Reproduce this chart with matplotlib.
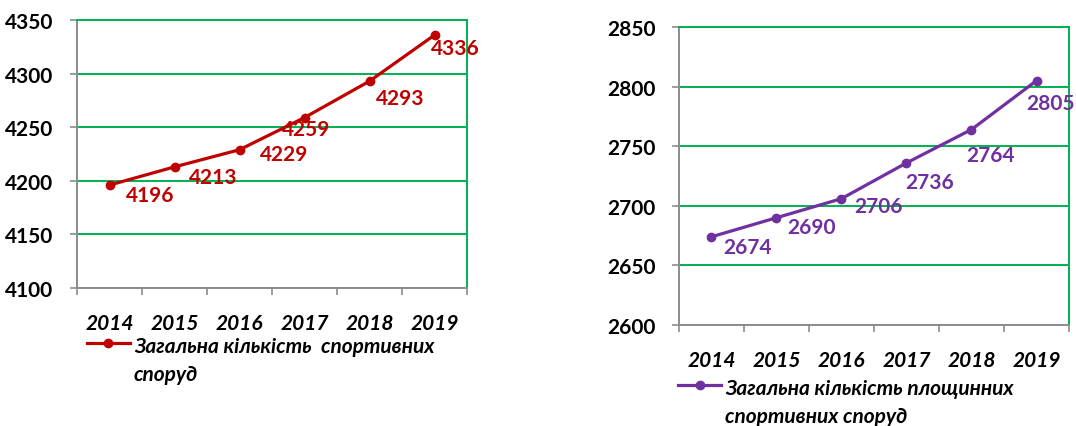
import matplotlib
matplotlib.use("Agg")
import matplotlib.pyplot as plt
from matplotlib.lines import Line2D

plt.rcParams['font.family'] = ['Lato', 'Noto Sans', 'DejaVu Sans']

years = ['2014', '2015', '2016', '2017', '2018', '2019']
facilities = [4196, 4213, 4229, 4259, 4293, 4336]
grounds = [2674, 2690, 2706, 2736, 2764, 2805]

left_label = 'Загальна кількість  спортивних\nспоруд'
right_label = 'Загальна кількість площинних\nспортивних споруд'

# label offsets in points (dx, dy) for data labels
left_offsets = [(29, -7), (28, -7), (32, -3), (1, -8), (22, -12), (15, -9)]
right_offsets = [(26, -7), (25, -7), (27, -5), (17, -14), (14, -18), (10, -16)]

grid_green = '#00B050'
axis_gray = '#8C8C8C'


def style_axes(ax, ymin, ymax):
    x = [i + 0.5 for i in range(len(years))]
    ax.set_xlim(0, len(years))
    ax.set_ylim(ymin, ymax)
    ax.set_yticks(range(ymin, ymax + 1, 50))
    ax.set_xticks(range(len(years) + 1))
    ax.set_xticklabels([])
    ax.set_xticks(x, minor=True)
    ax.set_xticklabels(years, minor=True, fontsize=15, fontweight='bold', fontstyle='italic')
    ax.tick_params(axis='x', which='major', length=5, color=axis_gray, width=1.2)
    ax.tick_params(axis='x', which='minor', length=0, pad=18)
    ax.tick_params(axis='y', length=5, color=axis_gray, width=1.2, pad=12, labelsize=15)
    for lab in ax.get_yticklabels():
        lab.set_fontweight('bold')
    ax.grid(axis='y', color=grid_green, linewidth=1.4)
    ax.set_axisbelow(True)
    ax.spines['left'].set_color(axis_gray)
    ax.spines['bottom'].set_color(axis_gray)
    ax.spines['top'].set_color(grid_green)
    ax.spines['right'].set_color(grid_green)
    for s in ax.spines.values():
        s.set_linewidth(1.4)
    return x


fig = plt.figure(figsize=(10.76, 4.27), dpi=100)
ax1 = fig.add_axes([0.0716, 0.3232, 0.3625, 0.6276])
ax2 = fig.add_axes([0.6310, 0.2365, 0.3625, 0.6979])

x1 = style_axes(ax1, 4100, 4350)
ax1.plot(x1, facilities, color='#C00000', linewidth=2.3, marker='o', markersize=6, clip_on=False)
for xi, v, off in zip(x1, facilities, left_offsets):
    ax1.annotate(str(v), (xi, v), xytext=off, textcoords='offset points', ha='center', va='center',
                 color='#C00000', fontsize=15, fontweight='bold')

x2 = style_axes(ax2, 2600, 2850)
ax2.plot(x2, grounds, color='#7030A0', linewidth=2.3, marker='o', markersize=6, clip_on=False)
for xi, v, off in zip(x2, grounds, right_offsets):
    ax2.annotate(str(v), (xi, v), xytext=off, textcoords='offset points', ha='center', va='center',
                 color='#7030A0', fontsize=15, fontweight='bold')

# legends drawn by hand to keep the marker on the first line
W, H = 1076, 427
fig.add_artist(Line2D([87 / W, 130 / W], [1 - 344 / H] * 2, color='#C00000', linewidth=2.3))
fig.add_artist(Line2D([108 / W], [1 - 344 / H], color='#C00000', marker='o', markersize=6))
fig.text(134 / W, 1 - 361 / H, left_label, ha='left', va='center', fontsize=15, fontweight='bold',
         fontstyle='italic', linespacing=1.55)

fig.add_artist(Line2D([678 / W, 721 / W], [1 - 386 / H] * 2, color='#7030A0', linewidth=2.3))
fig.add_artist(Line2D([700 / W], [1 - 386 / H], color='#7030A0', marker='o', markersize=6))
fig.text(725 / W, 1 - 403 / H, right_label, ha='left', va='center', fontsize=15, fontweight='bold',
         fontstyle='italic', linespacing=1.55)

fig.savefig('out.png', dpi=100)
